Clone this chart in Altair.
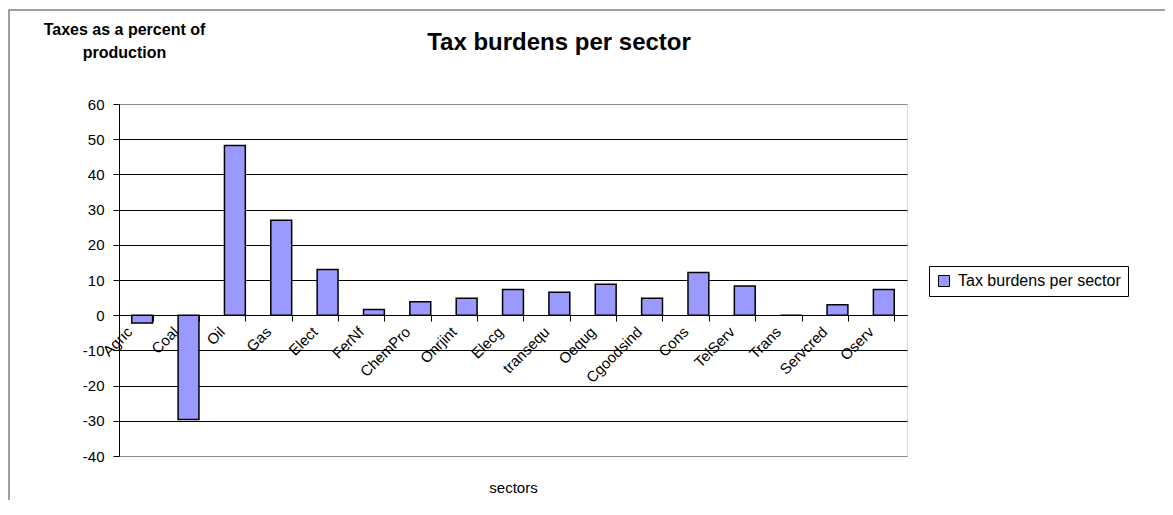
import altair as alt
import pandas as pd

sectors = ["Agric", "Coal", "Oil", "Gas", "Elect", "FerNf", "ChemPro", "Onrjint",
           "Elecg", "transequ", "Oequg", "Cgoodsind", "Cons", "TelServ", "Trans",
           "Servcred", "Oserv"]
burdens = [-2.2, -29.6, 48.2, 27.0, 13.0, 1.6, 3.8, 4.8, 7.3, 6.5, 8.8, 4.8,
           12.1, 8.3, 0.0, 3.0, 7.3]
series_name = "Tax burdens per sector"
y_ticks = [-40, -30, -20, -10, 0, 10, 20, 30, 40, 50, 60]

df = pd.DataFrame({"sector": sectors, "burden": burdens,
                   "series": [series_name] * len(sectors)})

FONT = "Liberation Sans"

bars = alt.Chart(df).mark_bar(stroke="black", strokeWidth=1.5).encode(
    x=alt.X(
        "sector:N", sort=sectors,
        scale=alt.Scale(paddingInner=0.55, paddingOuter=0.275),
        axis=alt.Axis(
            title="sectors", offset=-141, tickBand="extent", tickSize=6,
            tickColor="black", domainColor="black", grid=False,
            labelAngle=-45, labelAlign="right", labelBaseline="middle",
            labelOffset=-13, labelPadding=8, labelOverlap=False,
            labelFont=FONT, labelFontSize=15, labelColor="black",
            titleFont=FONT, titleFontSize=15, titleFontWeight="normal",
            titleColor="black", titleX=394, titleY=177,
            titleBaseline="alphabetic", titleAlign="center",
        ),
    ),
    y=alt.Y(
        "burden:Q",
        scale=alt.Scale(domain=[-40, 60], nice=False, zero=False),
        axis=alt.Axis(
            values=y_ticks, title=["Taxes as a percent of", "production"],
            labelExpr="datum.value < 0 ? '-' + abs(datum.value) : '' + datum.value",
            grid=True,
            gridColor={"condition": {"test": "datum.value === 60 || datum.value === -40",
                                     "value": "#8c8c8c"}, "value": "black"},
            gridWidth=1, domainColor="black", tickColor="black", tickSize=6,
            labelFont=FONT, labelFontSize=15, labelColor="black", labelPadding=9,
            titleFont=FONT, titleFontSize=16, titleFontWeight="bold",
            titleColor="black", titleAngle=0, titleX=5, titleY=-70,
            titleAlign="center", titleBaseline="alphabetic", titleLineHeight=23,
        ),
    ),
    color=alt.Color(
        "series:N", scale=alt.Scale(range=["#9999FF"]),
        legend=alt.Legend(
            title=None, orient="none", legendX=810, legendY=162,
            strokeColor="black", padding=7, symbolType="square", symbolSize=121,
            symbolStrokeColor="black", symbolStrokeWidth=1,
            labelFont=FONT, labelFontSize=16, labelColor="black",
            labelOffset=6, labelLimit=400,
        ),
    ),
)

frame_df = pd.DataFrame({"k": [0]})
frame = alt.Chart(frame_df).mark_rect(
    fill="transparent", stroke="#808080", strokeWidth=1.5
).encode(
    x=alt.value(-110), x2=alt.value(1200), y=alt.value(-94), y2=alt.value(1000))

chart = alt.layer(frame, bars).properties(
    width=788, height=352,
    autosize=alt.AutoSizeParams(type="none"),
    padding={"left": 111, "top": 96, "right": 258, "bottom": 44},
    title=alt.TitleParams(
        "Tax burdens per sector", font=FONT, fontSize=24, fontWeight="bold",
        color="black", anchor="middle", dx=46, dy=65, offset=0,
        baseline="alphabetic",
    ),
).configure_view(stroke="#8c8c8c", strokeWidth=1.5).configure(background="white")

chart.save("out.html", embed_options={"renderer": "svg", "actions": False})
